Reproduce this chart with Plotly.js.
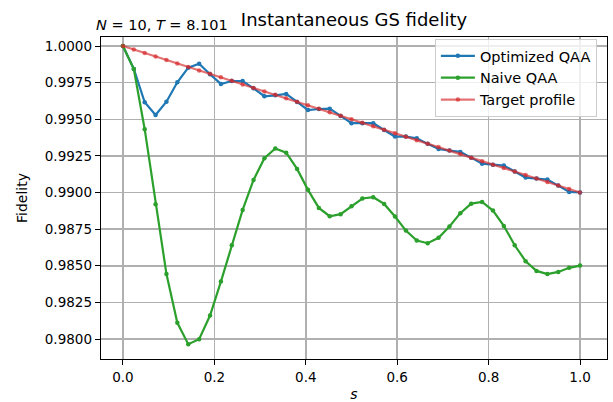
<!DOCTYPE html>
<html>
<head>
<meta charset="utf-8">
<script src="https://cdn.plot.ly/plotly-3.0.1.min.js"></script>
<style>html,body{margin:0;padding:0;background:#fff}#chart{width:613px;height:402px}</style>
</head>
<body>
<div id="chart"></div>
<script>
// s grid: 43 points from 0 to 1
const sValues = [0.0000,0.0238,0.0476,0.0714,0.0952,0.1190,0.1429,0.1667,0.1905,0.2143,0.2381,0.2619,0.2857,0.3095,0.3333,0.3571,0.3810,0.4048,0.4286,0.4524,0.4762,0.5000,0.5238,0.5476,0.5714,0.5952,0.6190,0.6429,0.6667,0.6905,0.7143,0.7381,0.7619,0.7857,0.8095,0.8333,0.8571,0.8810,0.9048,0.9286,0.9524,0.9762,1.0000];

const optimizedQAA = [1.0000,0.99843,0.99616,0.99529,0.99620,0.99752,0.99852,0.99879,0.99807,0.99741,0.99761,0.99761,0.99711,0.99657,0.99663,0.99673,0.99618,0.99563,0.99570,0.99572,0.99523,0.99473,0.99473,0.99473,0.99427,0.99382,0.99382,0.99370,0.99332,0.99297,0.99286,0.99277,0.99238,0.99197,0.99190,0.99184,0.99143,0.99102,0.99095,0.99088,0.99047,0.99004,0.99000];

const naiveQAA = [1.0000,0.99843,0.99432,0.98920,0.98443,0.98111,0.97965,0.97999,0.98160,0.98392,0.98640,0.98881,0.99086,0.99234,0.99300,0.99272,0.99161,0.99018,0.98895,0.98838,0.98852,0.98906,0.98959,0.98968,0.98922,0.98836,0.98740,0.98672,0.98654,0.98691,0.98768,0.98859,0.98924,0.98936,0.98877,0.98772,0.98640,0.98531,0.98465,0.98443,0.98458,0.98486,0.98501];

const targetProfile = [1.00000,0.99976,0.99952,0.99929,0.99905,0.99881,0.99857,0.99833,0.99810,0.99786,0.99762,0.99738,0.99714,0.99690,0.99667,0.99643,0.99619,0.99595,0.99571,0.99548,0.99524,0.99500,0.99476,0.99452,0.99429,0.99405,0.99381,0.99357,0.99333,0.99310,0.99286,0.99262,0.99238,0.99214,0.99190,0.99167,0.99143,0.99119,0.99095,0.99071,0.99048,0.99024,0.99000];

const seriesNames = ["Optimized QAA","Naive QAA","Target profile"];
const xTickVals = [0,0.2,0.4,0.6,0.8,1.0];
const yTickVals = [0.98,0.9825,0.985,0.9875,0.99,0.9925,0.995,0.9975,1.0];

const font = "DejaVu Sans, sans-serif";
const traces = [
  {x:sValues,y:optimizedQAA,name:seriesNames[0],mode:"lines+markers",
   line:{color:"#1f77b4",width:2.2},marker:{color:"#1f77b4",size:4.5}},
  {x:sValues,y:naiveQAA,name:seriesNames[1],mode:"lines+markers",
   line:{color:"#2ca02c",width:2.2},marker:{color:"#2ca02c",size:4.5}},
  {x:sValues,y:targetProfile,name:seriesNames[2],mode:"lines+markers",
   line:{color:"rgba(214,39,40,0.65)",width:2.2},marker:{color:"rgba(214,39,40,0.65)",size:4.5}}
];

const layout = {
  width:613,height:402,
  margin:{l:101,r:6,t:37,b:43,pad:0},
  paper_bgcolor:"#fff",plot_bgcolor:"#fff",
  font:{family:font,size:13.5,color:"#000"},
  showlegend:true,
  title:{text:"Instantaneous GS fidelity",font:{family:font,size:18,color:"#000"},
         x:0.5,xref:"paper",xanchor:"center",y:0.952,yref:"container",yanchor:"middle"},
  xaxis:{range:[-0.048,1.059],tickvals:xTickVals,tickformat:".1f",
         showgrid:true,gridcolor:"#b0b0b0",gridwidth:1.5,zeroline:false,
         showline:true,linecolor:"#000",linewidth:1.3,mirror:true,
         ticks:"outside",ticklen:5,tickwidth:1,tickcolor:"#000",
         tickfont:{family:font,size:13.5},
         title:{text:"<i>s</i>",font:{family:font,size:14},standoff:11}},
  yaxis:{range:[0.978636,1.000614],tickvals:yTickVals,tickformat:".4f",
         showgrid:true,gridcolor:"#b0b0b0",gridwidth:1.5,zeroline:false,
         showline:true,linecolor:"#000",linewidth:1.3,mirror:true,
         ticks:"outside",ticklen:5,tickwidth:1,tickcolor:"#000",
         tickfont:{family:font,size:13.5},
         title:{text:"Fidelity",font:{family:font,size:14},standoff:14}},
  legend:{x:0.98,y:0.994,xanchor:"right",yanchor:"top",
          bgcolor:"rgba(255,255,255,0.8)",bordercolor:"#cccccc",borderwidth:1,
          font:{family:font,size:14.5},tracegroupgap:0,itemwidth:34},
  annotations:[{text:"<i>N</i> = 10, <i>T</i> = 8.101",xref:"paper",yref:"paper",
                x:-0.014,y:1.0,xanchor:"left",yanchor:"bottom",yshift:2,showarrow:false,
                font:{family:font,size:14.5,color:"#000"}}]
};

Plotly.newPlot("chart",traces,layout,{displayModeBar:false,staticPlot:true});
</script>
</body>
</html>
